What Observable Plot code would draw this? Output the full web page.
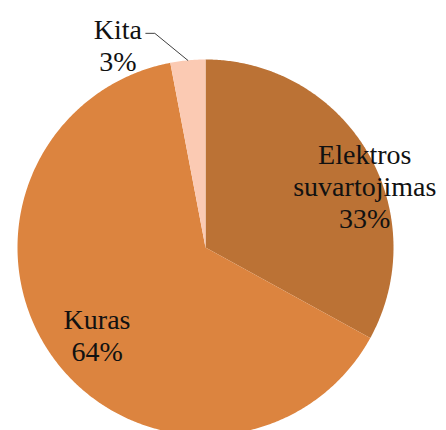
<!DOCTYPE html>
<html>
<head>
<meta charset="utf-8">
<script src="https://cdn.jsdelivr.net/npm/d3@7"></script>
<script src="https://cdn.jsdelivr.net/npm/@observablehq/plot@0.6"></script>
<style>
  html, body { margin: 0; padding: 0; background: #fff; }
  #chart { width: 446px; height: 430px; overflow: hidden; }
  #chart svg text, #chart svg tspan { font-family: "Liberation Serif", "Times New Roman", Tinos, "DejaVu Serif", serif !important; }
</style>
</head>
<body>
<div id="chart"></div>
<script>
// Data
const categories = ["Elektros suvartojimas", "Kuras", "Kita"];
const labelLines = ["Elektros\nsuvartojimas", "Kuras", "Kita"];
const values = [33, 64, 3];
const colors = ["#bb7235", "#dc843f", "#fbcab3"];

// Layout (label nudges in px, relative to mid-angle anchor)
const labelRadius = [0.7, 0.7, 1.0];
const labelDx = [46, -2, -70];
const labelDy = [5, 10, -16];

const total = d3.sum(values);
const pie = d3.pie().sort(null).value(d => d.value).startAngle(0).endAngle(2 * Math.PI);
const arcs = pie(categories.map((c, i) => ({name: c, value: values[i], color: colors[i], i})));

// Build slice polygons (unit radius), x = sin(a), y = cos(a)
const pts = [];
for (const a of arcs) {
  const n = Math.max(2, Math.ceil((a.endAngle - a.startAngle) / (Math.PI / 360)));
  pts.push({name: a.data.name, x: 0, y: 0});
  for (let k = 0; k <= n; k++) {
    const t = a.startAngle + (a.endAngle - a.startAngle) * k / n;
    pts.push({name: a.data.name, x: Math.sin(t), y: Math.cos(t)});
  }
}

const labels = arcs.map(a => {
  const mid = (a.startAngle + a.endAngle) / 2;
  const i = a.data.i;
  return {
    name: a.data.name,
    text: labelLines[i] + "\n" + Math.round(100 * a.data.value / total) + "%",
    x: labelRadius[i] * Math.sin(mid),
    y: labelRadius[i] * Math.cos(mid),
    dx: labelDx[i], dy: labelDy[i]
  };
});

// Leader line for "Kita"
const kita = arcs[2];
const kMid = (kita.startAngle + kita.endAngle) / 2;
const pxUnit = 188;
const p0 = {x: Math.sin(kMid), y: Math.cos(kMid)};
const p1 = {x: p0.x - 33 / pxUnit, y: p0.y + 27 / pxUnit};
const p2 = {x: p1.x - 9 / pxUnit, y: p1.y};
const leader = [p0, p1, p2];

const chart = Plot.plot({
  width: 446,
  height: 430,
  margin: 0,
  x: {domain: [-1, 1], range: [17, 393], axis: null},
  y: {domain: [-1, 1], range: [435, 59], axis: null},
  color: {domain: categories, range: colors},
  style: {background: "#fff", overflow: "hidden"},
  marks: [
    Plot.line(pts, {x: "x", y: "y", z: "name", fill: "name", stroke: "none", curve: "linear-closed"}),
    Plot.line(leader, {x: "x", y: "y", stroke: "#404040", strokeWidth: 1}),
    ...labels.map(l => Plot.text([l], {
      x: "x", y: "y", text: "text", dx: l.dx, dy: l.dy,
      fontFamily: "Liberation Serif",
      fontSize: 28, lineHeight: 1.15, fill: "#111", textAnchor: "middle"
    }))
  ]
});
document.getElementById("chart").appendChild(chart);
</script>
</body>
</html>
